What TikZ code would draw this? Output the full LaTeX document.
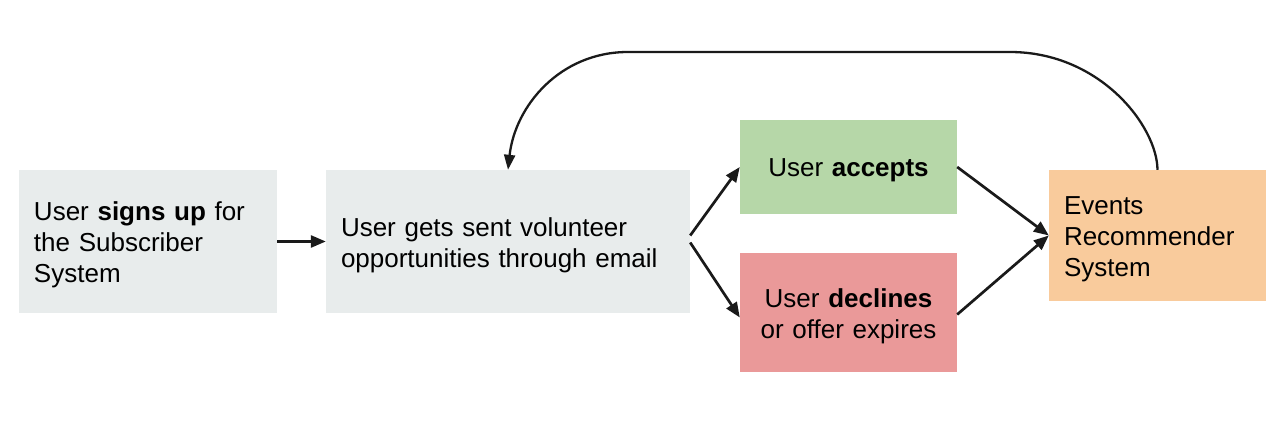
\documentclass[tikz,border=0pt]{standalone}
\usepackage{fontspec}
\setmainfont{Liberation Sans}
\usetikzlibrary{arrows.meta,calc}
\definecolor{boxgray}{HTML}{E8ECEC}
\definecolor{boxgreen}{HTML}{B6D7A8}
\definecolor{boxred}{HTML}{EA9999}
\definecolor{boxorange}{HTML}{F9CB9C}
\definecolor{ink}{HTML}{1A1A1A}
\begin{document}
\begin{tikzpicture}[x=1pt,y=1pt,
  box/.style={rectangle,inner sep=0pt},
  txt/.style={inner sep=0pt,yshift=-3.5pt,font=\fontsize{26}{31}\selectfont,text=black},
  conn/.style={line width=2.7pt,draw=ink,-{Triangle[length=15pt,width=12pt]}},
  loop/.style={line width=2.3pt,draw=ink,-{Triangle[length=15pt,width=11pt]}}]
\useasboundingbox (0,0) rectangle (1288,426);
\node[box,fill=boxgray,minimum width=258pt,minimum height=143pt] (b1) at (148,184.5) {};
\node[box,fill=boxgray,minimum width=364pt,minimum height=143pt] (b2) at (508,184.5) {};
\node[box,fill=boxgreen,minimum width=217pt,minimum height=94pt] (g) at (848.5,259) {};
\node[box,fill=boxred,minimum width=217pt,minimum height=119pt] (r) at (848.5,113.5) {};
\node[box,fill=boxorange,minimum width=217pt,minimum height=131pt] (o) at (1157.5,190.5) {};
\node[txt,text width=228pt,align=left] (t1) at (b1.center)
  {User \textbf{signs up} for\\the Subscriber\\System};
\node[txt,text width=334pt,align=left] (t2) at (b2.center)
  {User gets sent volunteer\\opportunities through email};
\node[txt,text width=187pt,align=center] (t3) at (g.center)
  {User \textbf{accepts}};
\node[txt,text width=187pt,align=center] (t4) at (r.center)
  {User \textbf{declines}\\or offer expires};
\node[txt,text width=187pt,align=left] (t5) at (o.center)
  {Events\\Recommender\\System};
\draw[conn] (b1.east) -- (b2.west);
\draw[conn] ([yshift=6pt]b2.east) -- (g.west);
\draw[conn] ([yshift=-1pt]b2.east) -- ([yshift=-5pt]r.west);
\draw[conn] (g.east) -- (o.west);
\draw[conn] ([yshift=-2pt]r.east) -- (o.west);
\coordinate (tr) at (1010,374);
\coordinate (tl) at (628,374);
\draw[loop] (o.north) .. controls (1157,300) and (1100,374) .. (tr) -- (tl)
  .. controls (560,374) and (515,320) .. (b2.north);
\end{tikzpicture}
\end{document}
